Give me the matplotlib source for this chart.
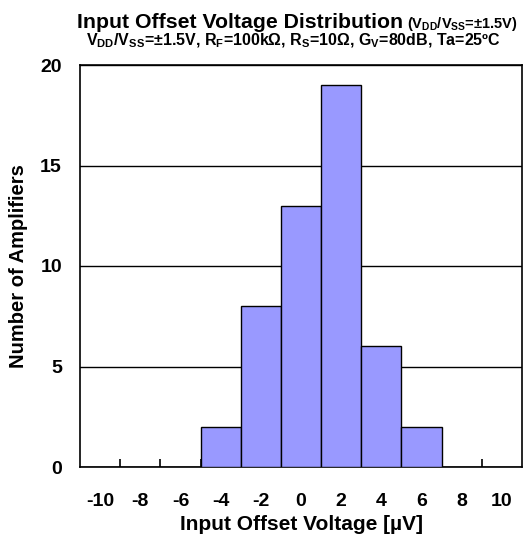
import matplotlib
matplotlib.use("Agg")
import matplotlib.pyplot as plt
import numpy as np

plt.rcParams['font.family'] = 'Liberation Sans'
plt.rcParams['font.weight'] = 'bold'
plt.rcParams['axes.labelweight'] = 'bold'
plt.rcParams['mathtext.fontset'] = 'custom'
plt.rcParams['mathtext.rm'] = 'Liberation Sans:bold'
plt.rcParams['mathtext.it'] = 'Liberation Sans:bold'
plt.rcParams['mathtext.bf'] = 'Liberation Sans:bold'

# histogram categories (bin centres, uV) and counts
voltages = [-10, -8, -6, -4, -2, 0, 2, 4, 6, 8, 10]
counts = [0, 0, 0, 2, 8, 13, 19, 6, 2, 0, 0]
y_ticks = [0, 5, 10, 15, 20]

W, H = 528, 544
fig = plt.figure(figsize=(W / 100, H / 100), dpi=100)
ax = fig.add_axes([80 / W, 1 - 467 / H, 442 / W, 402 / H])

x = np.arange(len(voltages))
ax.bar(x, counts, width=1.0, color='#9999FF', edgecolor='black', linewidth=1.0, zorder=3)

ax.set_xlim(-0.5, len(voltages) - 0.5)
ax.set_ylim(0, 20)
ax.set_yticks(y_ticks)
ax.yaxis.grid(True, color='black', linewidth=1.0, zorder=0)
ax.tick_params(axis='y', length=0, labelsize=14, pad=13)

# category labels centred, tick marks on category boundaries
ax.set_xticks(x)
ax.set_xticklabels([str(v) for v in voltages], fontsize=14)
ax.tick_params(axis='x', which='major', length=0, pad=19)
ax.set_xticks(x[:-1] + 0.5, minor=True)
ax.tick_params(axis='x', which='minor', direction='in', length=6, width=1.2, color='black')

for s in ax.spines.values():
    s.set_linewidth(1.2)

ax.set_xlabel('Input Offset Voltage [µV]', fontsize=15, labelpad=3)
ax.set_ylabel('Number of Amplifiers', fontsize=14.5, labelpad=9)

t = fig.text(77 / W, 1 - 28 / H, 'Input Offset Voltage Distribution', fontsize=15.3,
             ha='left', va='baseline')
fig.canvas.draw()
bb = t.get_window_extent()
fig.text((bb.x1 + 4) / W, 1 - 28 / H, '(V$_{DD}$/V$_{SS}$=±1.5V)', fontsize=10.5,
         ha='left', va='baseline')
fig.text(293 / W, 1 - 45 / H,
         'V$_{DD}$/V$_{SS}$=±1.5V, R$_F$=100kΩ, R$_S$=10Ω, G$_V$=80dB, Ta=25ºC',
         fontsize=11.5, ha='center', va='baseline')

fig.savefig('out.png', dpi=100)
